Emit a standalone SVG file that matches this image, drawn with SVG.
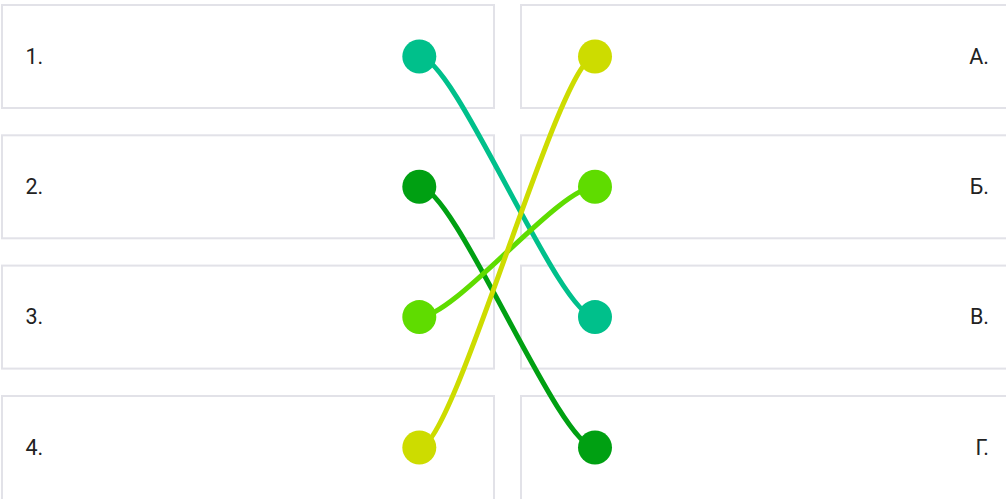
<svg xmlns="http://www.w3.org/2000/svg" width="1006" height="499" viewBox="0 0 1006 499">
<style>
.box{fill:#ffffff;stroke:#e2e2e8;stroke-width:2}
.lbl{font-family:Roboto,"Liberation Sans",sans-serif;font-size:21.5px;fill:#222222}
.r{text-anchor:end}
.ln{fill:none;stroke-width:5;stroke-linecap:round}
</style>
<rect width="1006" height="499" fill="#ffffff"/>
<g id="left-1"><rect class="box" x="2" y="5" width="492" height="103"/><text class="lbl" x="25.5" y="63.5">1.</text></g>
<g id="left-2"><rect class="box" x="2" y="135.3" width="492" height="103"/><text class="lbl" x="25.5" y="193.8">2.</text></g>
<g id="left-3"><rect class="box" x="2" y="265.6" width="492" height="103"/><text class="lbl" x="25.5" y="324.1">3.</text></g>
<g id="left-4"><rect class="box" x="2" y="396" width="492" height="110"/><text class="lbl" x="25.5" y="454.5">4.</text></g>
<g id="right-a"><rect class="box" x="521" y="5" width="495" height="103"/><text class="lbl r" x="989" y="63.5">А.</text></g>
<g id="right-b"><rect class="box" x="521" y="135.3" width="495" height="103"/><text class="lbl r" x="989" y="193.8">Б.</text></g>
<g id="right-v"><rect class="box" x="521" y="265.6" width="495" height="103"/><text class="lbl r" x="989" y="324.1">В.</text></g>
<g id="right-g"><rect class="box" x="521" y="396" width="495" height="110"/><text class="lbl r" x="989" y="454.5">Г.</text></g>
<g id="connectors">
<path class="ln" stroke="#00c08b" d="M419.3 56.5 C455 56.5 559 317.1 595 317.1"/>
<path class="ln" stroke="#00a012" d="M419.3 186.8 C455 186.8 559 447.5 595 447.5"/>
<path class="ln" stroke="#5fdc00" d="M419.3 317.1 C455 317.1 559 186.8 595 186.8"/>
<path class="ln" stroke="#cddc00" d="M419.3 447.5 C455 447.5 559 56.5 595 56.5"/>
</g>
<g id="dots">
<circle cx="419.3" cy="56.5" r="17" fill="#00c08b"/>
<circle cx="419.3" cy="186.8" r="17" fill="#00a012"/>
<circle cx="419.3" cy="317.1" r="17" fill="#5fdc00"/>
<circle cx="419.3" cy="447.5" r="17" fill="#cddc00"/>
<circle cx="595" cy="56.5" r="17" fill="#cddc00"/>
<circle cx="595" cy="186.8" r="17" fill="#5fdc00"/>
<circle cx="595" cy="317.1" r="17" fill="#00c08b"/>
<circle cx="595" cy="447.5" r="17" fill="#00a012"/>
</g>
</svg>
